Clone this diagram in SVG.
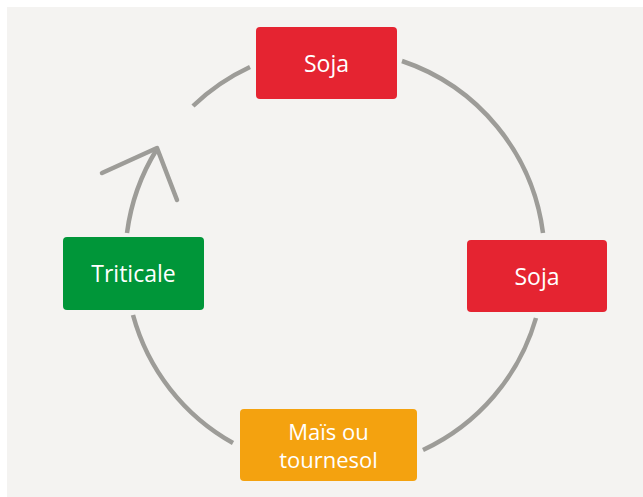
<svg xmlns="http://www.w3.org/2000/svg" width="643" height="497" viewBox="0 0 643 497">
<style>
.bg{fill:#f4f3f1}
.arc{fill:none;stroke:#9d9c98;stroke-width:4.5;stroke-linecap:butt}
.head{fill:none;stroke:#9d9c98;stroke-width:4.5;stroke-linecap:round;stroke-linejoin:round}
.lbl{font-family:"Open Sans","Noto Sans",sans-serif;font-size:23px;fill:#ffffff;text-anchor:middle}
.sm{font-size:22px}
.red{fill:#e52431}
.green{fill:#009639}
.orange{fill:#f4a20f}
</style>
<rect class="bg" x="7" y="7" width="636" height="490"/>
<g id="connectors">
<path class="arc" d="M 402 61 A 209.5 209.5 0 0 1 543 233"/>
<path class="arc" d="M 536 318 A 209.5 209.5 0 0 1 423 450"/>
<path class="arc" d="M 233 443 A 209.5 209.5 0 0 1 133 315"/>
<path class="arc" d="M 127 233 A 209.5 209.5 0 0 1 157 149"/>
<path class="arc" d="M 193 106 A 209.5 209.5 0 0 1 250 67"/>
<polyline class="head" points="102,173 157,148 177,200"/>
</g>
<g id="soja-top">
<rect class="red" x="256" y="27" width="141" height="72" rx="4"/>
<text class="lbl" x="326.5" y="71.5">Soja</text>
</g>
<g id="soja-right">
<rect class="red" x="467" y="240" width="140" height="72" rx="4"/>
<text class="lbl" x="537" y="284.5">Soja</text>
</g>
<g id="mais">
<rect class="orange" x="240" y="409" width="177" height="72" rx="4"/>
<text class="lbl sm" x="328.5" y="440">Maïs ou</text>
<text class="lbl sm" x="328.5" y="467.5">tournesol</text>
</g>
<g id="triticale">
<rect class="green" x="63" y="237" width="141" height="73" rx="4"/>
<text class="lbl" x="133.5" y="282">Triticale</text>
</g>
</svg>
